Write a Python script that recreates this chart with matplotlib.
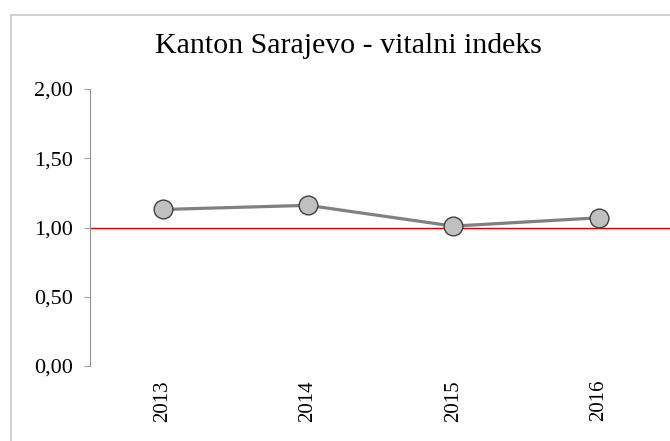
import matplotlib
matplotlib.use("Agg")
import matplotlib.pyplot as plt
from matplotlib.patches import Rectangle

years = ["2013", "2014", "2015", "2016"]
vital_index = [1.13, 1.16, 1.01, 1.07]
y_ticks = [0.0, 0.5, 1.0, 1.5, 2.0]
y_tick_labels = ["0,00", "0,50", "1,00", "1,50", "2,00"]
title = "Kanton Sarajevo - vitalni indeks"

plt.rcParams["font.family"] = ["Liberation Serif", "DejaVu Serif"]

fig = plt.figure(figsize=(6.70, 4.41), dpi=100)
fig.patch.set_facecolor("white")

# outer chart frame
fig.add_artist(Rectangle((11 / 670, -0.05), 1.0, 1 - 15 / 441 + 0.05,
                         transform=fig.transFigure, fill=False,
                         edgecolor="#c8c8c8", linewidth=1.2))

ax = fig.add_axes([90 / 670, 1 - 366 / 441, 1.0 - 90 / 670 + 0.002, (366 - 89) / 441])
x = list(range(len(years)))

ax.axhline(1.0, color="#e00000", linewidth=1.0, zorder=1)
ax.plot(x, vital_index, color="#808080", linewidth=2.3, marker="o",
        markersize=13.5, markerfacecolor="#c0c0c0", markeredgecolor="#404040",
        markeredgewidth=1.0, zorder=3)

ax.set_xlim(-0.5, len(years) - 0.5)
ax.set_ylim(0, 2.0)
ax.set_yticks(y_ticks)
ax.set_yticklabels(y_tick_labels, fontsize=16)
ax.set_xticks(x)
ax.set_xticklabels(years, rotation=90, fontsize=15)
ax.tick_params(axis="x", length=0, pad=10)
ax.tick_params(axis="y", length=4.5, width=0.8, color="#a0a0a0", pad=8)

for side in ("top", "right", "bottom"):
    ax.spines[side].set_visible(False)
ax.spines["left"].set_color("#909090")
ax.spines["left"].set_linewidth(0.8)

fig.text(0.52, 1 - 46 / 441, title, ha="center", va="center", fontsize=21.5)

fig.savefig("out.png", dpi=100, facecolor="white")
